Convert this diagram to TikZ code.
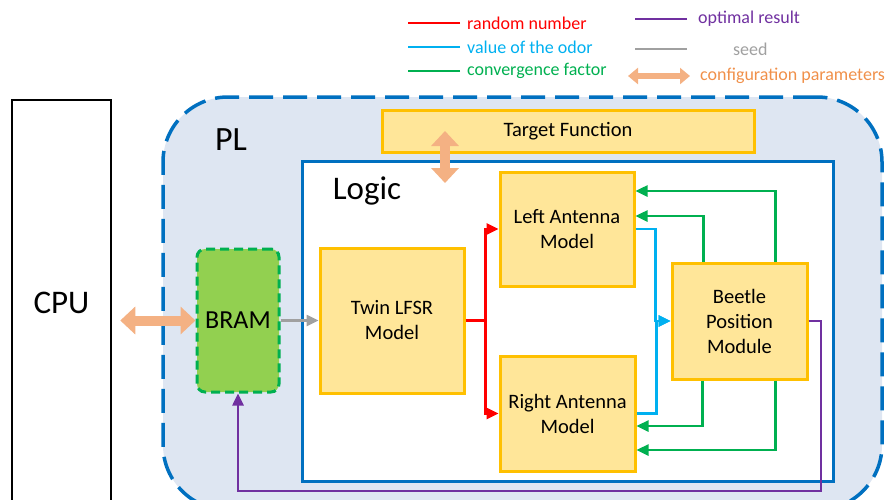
\documentclass[tikz,border=0pt]{standalone}
\usepackage{fontspec}
\setmainfont{Carlito}
\usetikzlibrary{arrows.meta, positioning, calc}
\definecolor{plblue}{HTML}{0070C0}
\definecolor{plfill}{HTML}{DEE6F2}
\definecolor{modfill}{HTML}{FFE699}
\definecolor{modedge}{HTML}{FFC000}
\definecolor{bramfill}{HTML}{92D050}
\definecolor{bramedge}{HTML}{00B050}
\definecolor{sigred}{HTML}{FF0000}
\definecolor{sigblue}{HTML}{00B0F0}
\definecolor{siggreen}{HTML}{00B050}
\definecolor{sigpurple}{HTML}{7030A0}
\definecolor{siggray}{HTML}{A0A0A0}
\definecolor{cfgorange}{HTML}{F4B183}
\definecolor{cfgtext}{HTML}{F0904A}

\begin{document}
\begin{tikzpicture}[
  x=1pt, y=-1pt,
  mod/.style={draw=modedge, fill=modfill, line width=3pt, align=center, inner sep=0pt,
    font=\fontsize{20.5}{25}\selectfont},
  sig/.style={line width=2.5pt, -{Triangle[length=12pt, width=11pt]}},
  cfg/.style={cfgorange, line width=10pt, {Triangle[length=15pt, width=27pt]}-{Triangle[length=15pt, width=27pt]}},
  cfgsmall/.style={cfgorange, line width=6pt, {Triangle[length=10pt, width=16pt]}-{Triangle[length=10pt, width=16pt]}},
  lgtext/.style={font=\fontsize{18}{20}\selectfont, anchor=west, inner sep=0pt},
  big/.style={font=\fontsize{33}{36}\selectfont}
]
\useasboundingbox (0,0) rectangle (891,499);
\clip (0,0) rectangle (891,499);

% ---- legend ----
\node[lgtext, sigred] (lgrand) at (467,23) {random number};
\node[lgtext, sigblue] (lgodor) at (467,47) {value of the odor};
\node[lgtext, siggreen] (lgconv) at (467,71) {convergence factor};
\node[lgtext, sigpurple] (lgopt) at (698,19) {optimal result};
\node[lgtext, siggray] (lgseed) at (733,49) {seed};
\node[lgtext, cfgtext] (lgcfg) at (700,76) {configuration parameters};
\draw[sigred, line width=2.5pt] ([xshift=-7]lgrand.west) -- ++(-52,0);
\draw[sigblue, line width=2.5pt] ([xshift=-7]lgodor.west) -- ++(-52,0);
\draw[siggreen, line width=2.5pt] ([xshift=-7]lgconv.west) -- ++(-52,0);
\draw[sigpurple, line width=2.5pt] ([xshift=-11]lgopt.west) -- ++(-52,0);
\draw[siggray, line width=2.5pt] (687,49) -- ++(-52,0);
\draw[cfgsmall] ([xshift=-10]lgcfg.west) -- ++(-62,0);

% ---- CPU and PL ----
\node[draw, line width=2.5pt, minimum width=99, minimum height=405, big] (cpu) at (61.5,302.5) {CPU};
\node[draw=plblue, fill=plfill, line width=3.5pt, dash pattern=on 24pt off 10pt,
  rounded corners=65pt, minimum width=719, minimum height=413] (pl) at (522.5,303.5) {};
\node[font=\fontsize{34}{36}\selectfont] (pllabel) at (231,140) {PL};

% ---- modules ----
\node[mod, minimum width=372, minimum height=42] (target) at (568,131) {Target Function};
\node[draw=plblue, fill=white, line width=3pt, minimum width=531, minimum height=320] (logic) at (567.5,321) {};
\node[big] (logiclabel) at (367,191) {Logic};
\node[draw=bramedge, fill=bramfill, line width=3pt, dash pattern=on 9pt off 5pt, rounded corners=8pt,
  minimum width=82, minimum height=143, font=\fontsize{26}{28}\selectfont] (bram) at (238,320.5) {BRAM};
\node[mod, minimum width=144, minimum height=145] (lfsr) at (392,320.5) {Twin LFSR\\Model};
\node[mod, minimum width=134, minimum height=114] (left) at (567,229) {Left Antenna\\Model};
\node[mod, minimum width=135, minimum height=115] (right) at (567.5,413.5) {Right Antenna\\Model};
\node[mod, minimum width=135, minimum height=116] (beetle) at (739.5,321) {Beetle\\Position\\Module};

% ---- signals ----
\draw[sig, siggray] (bram.east) -- (lfsr.west);
\draw[sig, sigred] (lfsr.east) -- ++(20,0) coordinate (rsplit) |- (left.west);
\draw[sig, sigred] (rsplit) |- (right.west);
\draw[sig, sigblue] (left.east) -- ++(20,0) |- (beetle.west);
\draw[sig, sigblue] (right.east) -- ++(20,0) |- (beetle.west);
% yshift is in canvas pt, so positive is up here
\draw[sig, siggreen] ([xshift=-36]beetle.north) |- ([yshift=13]left.east);
\draw[sig, siggreen] ([xshift=36]beetle.north) |- ([yshift=38]left.east);
\draw[sig, siggreen] ([xshift=-37]beetle.south) |- ([yshift=-12.5]right.east);
\draw[sig, siggreen] ([xshift=36]beetle.south) |- ([yshift=-36.5]right.east);
\coordinate (ret) at (821,491);
\draw[sig, sigpurple] (beetle.east) -| (ret) -| (bram.south);

% ---- configuration ----
\draw[cfg] ([xshift=8]bram.west -| cpu.east) -- (bram.west);
\draw[cfg] ([xshift=-123]target.center) -- ++(0,52);
\end{tikzpicture}
\end{document}
